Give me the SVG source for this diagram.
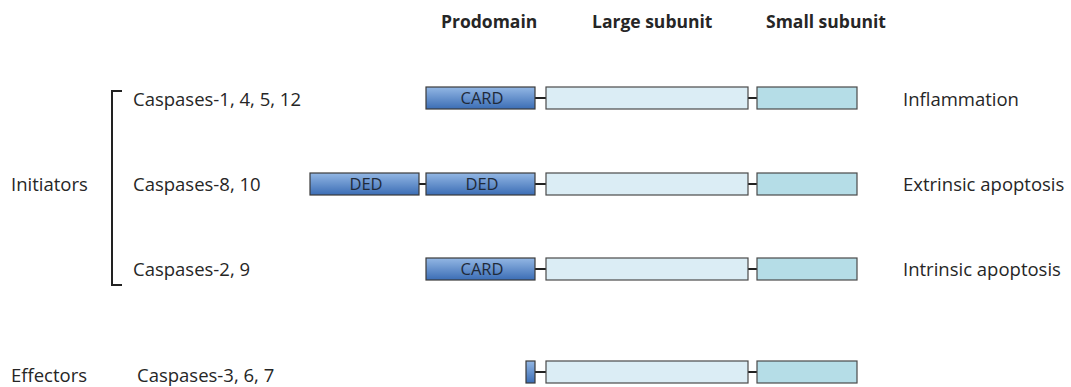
<svg xmlns="http://www.w3.org/2000/svg" width="1071" height="387" viewBox="0 0 1071 387">
<style>
text{font-family:"Open Sans","Liberation Sans",sans-serif;font-size:18.5px;fill:#262626}
.h{font-weight:bold;font-size:17.5px}
.dl{font-size:16.5px;text-anchor:middle;fill:#1f2a3a}
.pro{fill:url(#gb);stroke:#3a3a3a;stroke-width:1.2}
.lg{fill:#dbedf5;stroke:#4a4a4a;stroke-width:1.2}
.sm{fill:#b5dde7;stroke:#4a4a4a;stroke-width:1.2}
.ln{stroke:#222;stroke-width:2;fill:none}
</style>
<defs>
<linearGradient id="gb" x1="0" y1="0" x2="0" y2="1">
<stop offset="0" stop-color="#93b7e4"/>
<stop offset="1" stop-color="#3b6db5"/>
</linearGradient>
</defs>
<rect width="1071" height="387" fill="#fff"/>
<g id="headers">
<text class="h" x="441" y="28">Prodomain</text>
<text class="h" x="592" y="28">Large subunit</text>
<text class="h" x="766" y="28">Small subunit</text>
</g>
<g id="labels-left">
<text x="11" y="191">Initiators</text>
<text x="11" y="382">Effectors</text>
<text x="133" y="106">Caspases-1, 4, 5, 12</text>
<text x="133" y="191">Caspases-8, 10</text>
<text x="133" y="276">Caspases-2, 9</text>
<text x="137" y="382">Caspases-3, 6, 7</text>
</g>
<g id="bracket">
<path class="ln" d="M122,91 H112 V285 H122"/>
</g>
<g id="connectors">
<line class="ln" x1="535" y1="98" x2="546" y2="98"/>
<line class="ln" x1="748" y1="98" x2="757" y2="98"/>
<line class="ln" x1="419" y1="184" x2="426" y2="184"/>
<line class="ln" x1="535" y1="184" x2="546" y2="184"/>
<line class="ln" x1="748" y1="184" x2="757" y2="184"/>
<line class="ln" x1="535" y1="269" x2="546" y2="269"/>
<line class="ln" x1="748" y1="269" x2="757" y2="269"/>
<line class="ln" x1="535" y1="372" x2="546" y2="372"/>
<line class="ln" x1="748" y1="372" x2="757" y2="372"/>
</g>
<g id="row1">
<rect class="pro" x="426" y="87" width="109" height="22"/>
<text class="dl" x="482" y="104">CARD</text>
<rect class="lg" x="546" y="87" width="202" height="22"/>
<rect class="sm" x="757" y="87" width="100" height="22"/>
</g>
<g id="row2">
<rect class="pro" x="310" y="173" width="109" height="22"/>
<text class="dl" x="366" y="190">DED</text>
<rect class="pro" x="426" y="173" width="109" height="22"/>
<text class="dl" x="482" y="190">DED</text>
<rect class="lg" x="546" y="173" width="202" height="22"/>
<rect class="sm" x="757" y="173" width="100" height="22"/>
</g>
<g id="row3">
<rect class="pro" x="426" y="258" width="109" height="22"/>
<text class="dl" x="482" y="275">CARD</text>
<rect class="lg" x="546" y="258" width="202" height="22"/>
<rect class="sm" x="757" y="258" width="100" height="22"/>
</g>
<g id="row4">
<rect class="pro" x="526" y="361" width="9" height="22"/>
<rect class="lg" x="546" y="361" width="202" height="22"/>
<rect class="sm" x="757" y="361" width="100" height="22"/>
</g>
<g id="labels-right">
<text x="903" y="106">Inflammation</text>
<text x="903" y="191">Extrinsic apoptosis</text>
<text x="903" y="276">Intrinsic apoptosis</text>
</g>
</svg>
